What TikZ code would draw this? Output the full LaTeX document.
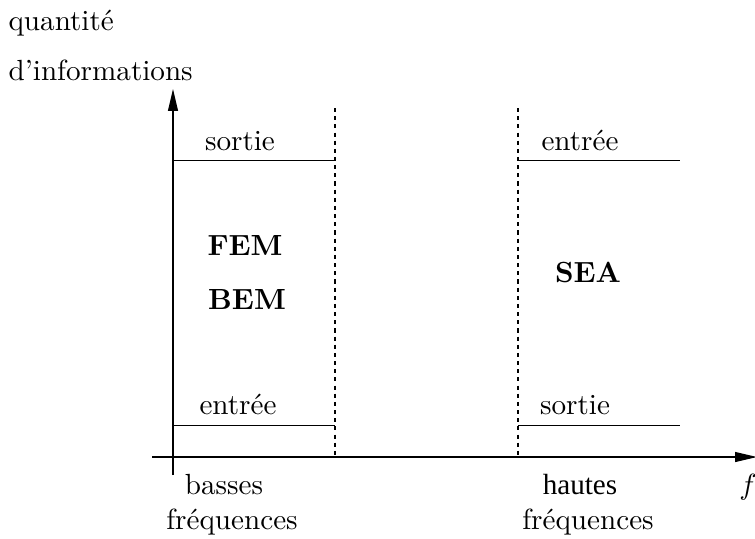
\documentclass[tikz,border=0pt]{standalone}
\usepackage{fontspec}
\newfontfamily\timesfont{Liberation Serif}
\usetikzlibrary{arrows.meta}
\begin{document}
\begin{tikzpicture}[x=0.343pt,y=-0.343pt,
  axis/.style={line width=0.4pt,-{Triangle[length=7.5pt,width=3.4pt]}},
  rule/.style={line width=0.35pt},
  bound/.style={line width=0.35pt,dash pattern=on 1.4pt off 1.4pt},
  lbl/.style={inner sep=0pt,font=\normalsize},
  meth/.style={inner sep=0pt,font=\bfseries}]
\useasboundingbox (0,0) rectangle (755,538);
% axes
\coordinate (yo) at (173,475);
\coordinate (yt) at (173,89);
\coordinate (xo) at (152,457);
\coordinate (xt) at (757,457);
\draw[axis] (yo) -- (yt);
\draw[axis] (xo) -- (xt);
% frequency-domain limits
\coordinate (l1) at (335,108); \coordinate (l1b) at (335,457);
\coordinate (l2) at (518,108); \coordinate (l2b) at (518,457);
\draw[bound] (l1) -- (l1b);
\draw[bound] (l2) -- (l2b);
% information levels
\coordinate (a1) at (173,160); \coordinate (a2) at (335,160);
\coordinate (b1) at (518,160); \coordinate (b2) at (680,160);
\coordinate (c1) at (173,425); \coordinate (c2) at (335,425);
\coordinate (d1) at (518,425); \coordinate (d2) at (680,425);
\draw[rule] (a1) -- (a2);
\draw[rule] (b1) -- (b2);
\draw[rule] (c1) -- (c2);
\draw[rule] (d1) -- (d2);
% labels
\node[lbl,anchor=base west] (q1) at (8,30) {quantité};
\node[lbl,anchor=base west] (q2) at (8,80) {d'informations};
\node[lbl,anchor=base] (s1) at (240,150) {sortie};
\node[lbl,anchor=base] (e1) at (580,150) {entrée};
\node[lbl,anchor=base] (e2) at (238,414) {entrée};
\node[lbl,anchor=base] (s2) at (575,414) {sortie};
\node[meth,anchor=base] (fem) at (245,255) {FEM};
\node[meth,anchor=base] (bem) at (247,309) {BEM};
\node[meth,anchor=base] (sea) at (588,282) {SEA};
\node[lbl,anchor=base] (bf1) at (224,494) {basses};
\node[lbl,anchor=base] (bf2) at (232,529) {fréquences};
\node[lbl,anchor=base,font=\timesfont] (hf1) at (580,494) {hautes};
\node[lbl,anchor=base] (hf2) at (588,529) {fréquences};
\node[lbl,anchor=base] (f) at (748,494) {$f$};
\end{tikzpicture}
\end{document}
